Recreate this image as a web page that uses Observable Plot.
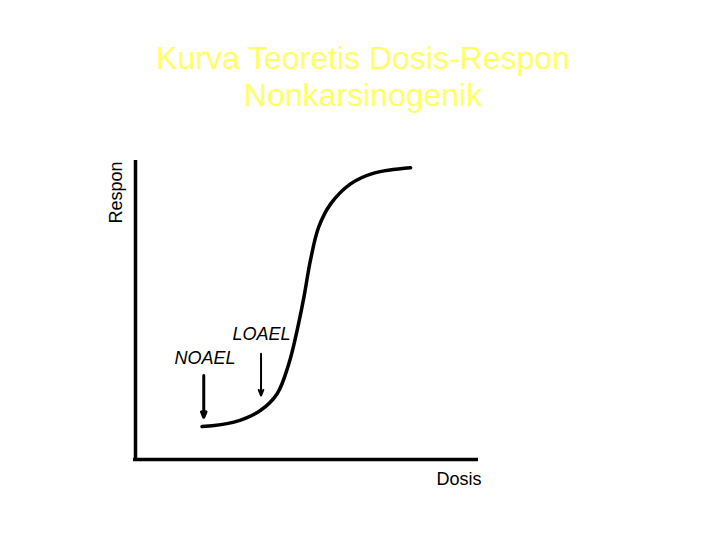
<!DOCTYPE html>
<html>
<head>
<meta charset="utf-8">
<script src="https://cdn.jsdelivr.net/npm/d3@7"></script>
<script src="https://cdn.jsdelivr.net/npm/@observablehq/plot@0.6"></script>
<style>
  html, body { margin: 0; padding: 0; background: #ffffff; }
  #wrap { position: relative; width: 720px; height: 540px; overflow: hidden; }
  #title { position: absolute; left: 0; top: 40px; width: 726px; text-align: center;
           font-family: "Liberation Sans", Arial, sans-serif; font-size: 32px; line-height: 37px;
           color: #ffff66; }
  #chart { position: absolute; left: 0; top: 0; }
</style>
</head>
<body>
<div id="wrap">
  <div id="chart"></div>
  <div id="title">Kurva Teoretis Dosis-Respon<br>Nonkarsinogenik</div>
</div>
<script>
// Theoretical dose-response curve (arbitrary units 0-100)
const dose     = [19.4, 28.7, 36.4, 41.3, 44.7, 47.1, 49.1, 51.0, 53.4, 56.9, 62.7, 69.5, 80.2];
const response = [11.0, 12.5, 16.4, 22.0, 32.0, 43.1, 54.3, 66.6, 77.7, 85.5, 92.2, 95.8, 97.6];

// Arrows marking NOAEL and LOAEL
const markerNames = ["NOAEL", "LOAEL"];
const markerDose  = [19.9, 36.6];
const arrowTop    = [28.1, 35.4];
const arrowTip    = [14.1, 21.4];
const labelX      = [11.4, 28.3];
const labelY      = [32.1, 39.8];

const axisLabels = { x: "Dosis", y: "Respon" };

const curve = dose.map((d, i) => ({dose: d, response: response[i]}));
const markers = markerNames.map((n, i) => ({
  name: n, x: markerDose[i], y1: arrowTop[i], y2: arrowTip[i],
  lx: labelX[i], ly: labelY[i], w: i === 0 ? 3 : 2
}));

const plot = Plot.plot({
  width: 720,
  height: 540,
  marginLeft: 135,
  marginRight: 242,
  marginTop: 160,
  marginBottom: 81,
  style: { fontFamily: "'Liberation Sans', Arial, sans-serif", background: "transparent" },
  x: { domain: [0, 100], axis: null },
  y: { domain: [0, 100], axis: null },
  marks: [
    Plot.ruleX([0], { y1: 0, y2: 100, stroke: "black", strokeWidth: 3.5 }),
    Plot.ruleY([0], { x1: -0.6, x2: 100, stroke: "black", strokeWidth: 3.5 }),
    Plot.line(curve, { x: "dose", y: "response", curve: "catmull-rom", stroke: "black", strokeWidth: 3.5 }),
    Plot.arrow(markers, { x1: "x", x2: "x", y1: "y1", y2: "y2", stroke: "black",
      strokeWidth: "w", headLength: 9, headAngle: 45 }),
    Plot.text(markers, { x: "lx", y: "ly", text: "name", textAnchor: "start", lineAnchor: "bottom",
      fontSize: 18, fontStyle: "italic", fill: "black" }),
    Plot.text([axisLabels.x], { x: 100.9, y: -8.4, text: d => d, textAnchor: "end", lineAnchor: "bottom",
      fontSize: 18, fill: "black" }),
    Plot.text([axisLabels.y], { x: -5.5, y: 89.3, text: d => d, rotate: -90, textAnchor: "middle",
      lineAnchor: "middle", fontSize: 18, fill: "black" })
  ]
});
document.getElementById("chart").appendChild(plot);
</script>
</body>
</html>
